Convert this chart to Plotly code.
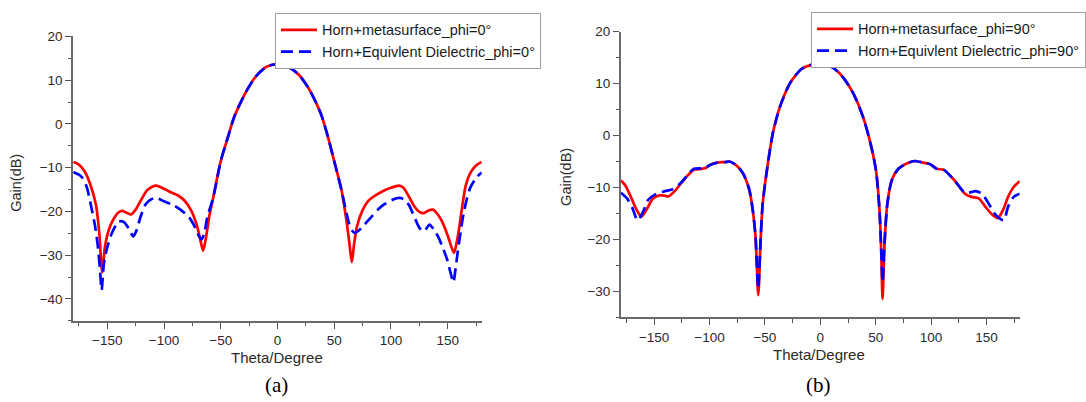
import plotly.graph_objects as go

# ---------------- data ----------------
# (a) phi = 0
theta_a_meta = [-180, -175, -170, -165, -160, -157, -154.5, -152, -149, -145, -140, -137, -133, -129,
                -125, -120, -115, -110, -107, -100, -95, -88, -82, -76, -71, -68, -65.5, -63, -60,
                -56.5, -50, -44, -38, -28, -19, -9.4, 0, 9.4, 19, 28, 38, 44, 50, 56.5, 61, 63.5,
                65.5, 67.5, 70, 75, 80, 86, 94, 100, 107, 111, 116, 121, 125, 129, 133, 137, 141,
                145, 150, 155.5, 158, 160, 163, 166, 170, 175, 180]
gain_a_meta = [-8.7, -9.3, -10.8, -13.8, -18.5, -25, -33.9, -28, -24.5, -22, -20.2, -19.9, -20.3, -20.7,
               -19.6, -17.3, -15.2, -14.3, -14.1, -14.8, -15.5, -16.3, -17.5, -19.8, -23.2, -26.5, -29,
               -26, -21, -16.7, -8.5, -3.3, 1.7, 7.2, 10.9, 13.1, 13.7, 13.1, 11.2, 7.9, 2.5, -2.5,
               -8.5, -15.2, -22.5, -27.5, -31.6, -27.5, -23.5, -19.7, -17.6, -16.4, -15.2, -14.6,
               -14.1, -14.6, -16.7, -19, -20.1, -20.4, -19.8, -19.6, -20.6, -22.3, -25.5, -29.5,
               -27, -24, -18.5, -14, -11.2, -9.5, -8.7]

theta_a_diel = [-180, -175, -172, -168, -164.5, -161, -158.5, -156.5, -155, -153, -150.5, -146, -140,
                -135, -131, -127, -124, -121, -116, -111, -107, -100, -93, -85, -78, -73.5, -69.5,
                -67, -64.5, -62, -56.5, -50, -44, -38, -28, -19, -9.4, 0, 9.4, 19, 28, 38, 44, 50,
                56.5, 60, 63, 65.5, 68, 72, 76, 82, 88, 94, 100, 105, 108, 112, 116, 120.5, 124.5,
                128, 131, 134, 138, 142, 146, 149.5, 152.5, 155, 157, 159, 161.5, 164, 167, 170,
                175.5, 180]
gain_a_diel = [-11, -11.6, -12.3, -14.5, -18.5, -23, -27.5, -33, -38, -32, -28.7, -25, -22.3, -22.5,
               -24, -25.7, -24.2, -21.5, -18.3, -17.2, -16.9, -17.7, -18.4, -19.7, -21.3, -23.2,
               -25.5, -26.4, -25, -21.5, -16.7, -8.5, -3.3, 1.7, 7.2, 10.9, 13.1, 13.7, 13.1, 11.2,
               7.9, 2.5, -2.5, -8.5, -15.2, -19.5, -22.7, -24.3, -24.9, -24.3, -23.2, -21.5, -19.7,
               -18.4, -17.5, -17, -16.9, -17.3, -18.6, -21.2, -23.5, -24.6, -24, -23, -24.2, -26,
               -28.5, -31, -34, -36.2, -33, -29, -24.5, -20.5, -17, -14.5, -12.2, -11.1]

# (b) phi = 90
theta_b_meta = [-180, -176, -171, -166.5, -161.5, -157, -151, -145, -140, -137, -131, -124, -118, -114,
                -107, -103, -99, -93, -86, -82, -78, -74, -70, -67.5, -64, -61, -58.5, -56, -54, -52,
                -47, -42.5, -36, -27, -17, -8, 0, 11, 20.5, 30, 39, 45.5, 50.3, 53.4, 55, 56.2, 58,
                60.5, 64.5, 70.5, 80, 85, 92.5, 99, 105, 111.5, 121, 130.5, 136.5, 143, 149, 155.5,
                160.2, 165, 169.5, 174.5, 180]
gain_b_meta = [-8.65, -9.6, -11.8, -14, -15.6, -14.3, -12.1, -11.5, -11.6, -11.7, -10.6, -8.7, -7.3,
               -6.6, -6.4, -6.2, -5.6, -5.2, -5.1, -5.0, -5.4, -6.1, -7.2, -8.3, -10.5, -14.3, -19.4,
               -30.7, -20.6, -13.1, -4.9, 0.8, 5.8, 10.2, 12.8, 13.6, 13.8, 13.1, 11.2, 8.0, 3.3,
               -1.7, -6.8, -14.3, -22.5, -31.4, -20.6, -13.1, -8.6, -6.4, -5.2, -4.9, -5.2, -5.5,
               -6.4, -6.6, -8.6, -11.2, -11.8, -12.1, -13.7, -15.3, -15.9, -14.3, -11.8, -9.9, -8.8]

theta_b_diel = [-180, -174.5, -169.5, -165, -160.5, -155.5, -148, -140, -134, -128, -124, -118, -114,
                -107, -103, -99, -93, -86, -82, -78, -74, -70, -67.5, -64, -61, -58.5, -56, -54, -52,
                -47, -42.5, -36, -27, -17, -8, 0, 11, 20.5, 30, 39, 45.5, 50.3, 53.4, 55, 56.2, 58,
                60.5, 64.5, 70.5, 80, 85, 92.5, 99, 105, 111.5, 121, 130.5, 136, 140, 146, 152,
                158.5, 165.5, 169.5, 174.5, 180]
gain_b_diel = [-11.0, -12.1, -14.0, -16.3, -14.9, -12.4, -11.2, -10.7, -10.4, -9.5, -8.7, -7.1, -6.4,
               -6.3, -6.1, -5.6, -5.2, -5.1, -5.0, -5.4, -6.1, -7.2, -8.3, -10.5, -14.3, -19.4,
               -29.5, -20.6, -13.1, -4.9, 0.8, 5.8, 10.2, 12.8, 13.6, 13.8, 13.1, 11.2, 8.0, 3.3,
               -1.7, -6.8, -14.3, -22, -28.2, -20.6, -13.1, -8.6, -6.4, -5.2, -4.9, -5.2, -5.5,
               -6.4, -6.6, -8.6, -11.0, -10.9, -10.7, -11.2, -13.1, -15.3, -16.3, -13.7, -11.8, -11.2]

names_a = ["Horn+metasurface_phi=0°", "Horn+Equivlent Dielectric_phi=0°"]
names_b = ["Horn+metasurface_phi=90°", "Horn+Equivlent Dielectric_phi=90°"]

# ---------------- layout helpers ----------------
W, H = 1086, 402
def px(x):
    return x / W
def py(y):
    return 1 - y / H

RED = "#ff0000"
BLUE = "#0000ff"
AX = "#6a6a6a"
TK = "#555555"
FONT = "Liberation Sans, Arial, sans-serif"

fig = go.Figure()

def add_pair(th1, g1, th2, g2, names, xa, ya, leg):
    fig.add_trace(go.Scatter(x=th1, y=g1, mode="lines", name=names[0], xaxis=xa, yaxis=ya,
                             legend=leg, line=dict(color=RED, width=2.7, shape="spline", smoothing=0.7)))
    fig.add_trace(go.Scatter(x=th2, y=g2, mode="lines", name=names[1], xaxis=xa, yaxis=ya,
                             legend=leg, line=dict(color=BLUE, width=2.7, dash="12px,6px",
                                                   shape="spline", smoothing=0.7)))

add_pair(theta_a_meta, gain_a_meta, theta_a_diel, gain_a_diel, names_a, "x", "y", "legend")
add_pair(theta_b_meta, gain_b_meta, theta_b_diel, gain_b_diel, names_b, "x2", "y2", "legend2")

xcommon = dict(range=[-180, 180], tick0=0, dtick=50, showline=True, linecolor=AX, linewidth=1.8,
               ticks="outside", ticklen=6, tickwidth=1.2, tickcolor=TK, showgrid=False, zeroline=False,
               tickfont=dict(family=FONT, size=13.5, color="#2a2a2a"),
               minor=dict(ticks="outside", dtick=25, ticklen=3.5, tickwidth=1.2, tickcolor=TK, showgrid=False))
ycommon = dict(tick0=0, dtick=10, showline=True, linecolor=AX, linewidth=1.8,
               ticks="outside", ticklen=6, tickwidth=1.2, tickcolor=TK, showgrid=False, zeroline=False,
               tickfont=dict(family=FONT, size=13.5, color="#2a2a2a"),
               minor=dict(ticks="outside", dtick=5, ticklen=3.5, tickwidth=1.2, tickcolor=TK, showgrid=False))

legcommon = dict(bgcolor="white", bordercolor="#a0a0a0", borderwidth=1, xanchor="left", yanchor="top",
                 font=dict(family=FONT, size=14.5, color="#1a1a1a"), itemwidth=36, tracegroupgap=0)

fig.update_layout(
    width=W, height=H, margin=dict(l=0, r=0, t=0, b=0),
    paper_bgcolor="white", plot_bgcolor="white",
    xaxis=dict(domain=[px(73.5), px(483.5)], anchor="y", **xcommon),
    yaxis=dict(domain=[py(319.3), py(30)], anchor="x", range=[-45, 20], **ycommon),
    xaxis2=dict(domain=[px(623.2), px(1023.5)], anchor="y2", **xcommon),
    yaxis2=dict(domain=[py(316), py(25)], anchor="x2", range=[-35, 20], **ycommon),
    legend=dict(x=px(276), y=py(6), **legcommon),
    legend2=dict(x=px(814), y=py(5), **legcommon),
    showlegend=True,
)

def ann(text, x, y, size, family=FONT, angle=0, color="#2a2a2a"):
    fig.add_annotation(text=text, x=px(x), y=py(y), xref="paper", yref="paper", showarrow=False,
                       xanchor="center", yanchor="middle", textangle=angle,
                       font=dict(family=family, size=size, color=color))

ann("Gain(dB)", 16, 179, 14.5, angle=-90)
ann("Gain(dB)", 568, 173, 14.5, angle=-90)
ann("Theta/Degree", 278.5, 357, 15)
ann("Theta/Degree", 822.5, 353.5, 15)
ann("(a)", 278, 385, 21, family="Liberation Serif, Times New Roman, serif", color="#000000")
ann("(b)", 822, 385, 21, family="Liberation Serif, Times New Roman, serif", color="#000000")

fig.write_html("out.html")
